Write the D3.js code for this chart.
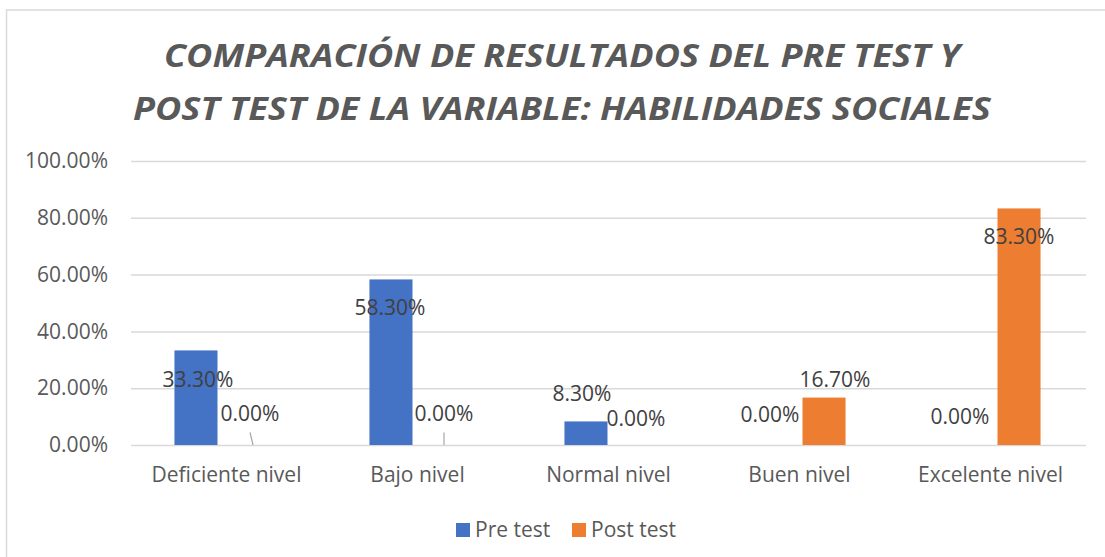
<!DOCTYPE html>
<html>
<head>
<meta charset="utf-8">
<script src="https://cdn.jsdelivr.net/npm/d3@7/dist/d3.min.js"></script>
<style>
  html, body { margin: 0; padding: 0; background: #fff; }
  svg { display: block; }
  text { font-family: "Open Sans", "Noto Sans", sans-serif; }
</style>
</head>
<body>
<svg id="chart" width="1105" height="557"></svg>
<script>
// ---- data ----
const categories = ["Deficiente nivel", "Bajo nivel", "Normal nivel", "Buen nivel", "Excelente nivel"];
const seriesNames = ["Pre test", "Post test"];
const preTest = [0.333, 0.583, 0.083, 0.0, 0.0];
const postTest = [0.0, 0.0, 0.0, 0.167, 0.833];
const yTicks = [0, 0.2, 0.4, 0.6, 0.8, 1.0];
const titleLines = ["COMPARACIÓN DE RESULTADOS DEL PRE TEST Y", "POST TEST DE LA VARIABLE: HABILIDADES SOCIALES"];

// ---- style / layout (label nudges are manual placement of data labels) ----
const colors = ["#4472C4", "#ED7D31"];
const preNudge = [[2, 29], [-1, 28], [-4, -28], [-11, -30], [-16, -28]];
const postNudge = [[11, -31], [10, -31], [7, -26], [11, -18], [0, 28]];
const leaders = [[0, 1], [1, 1]]; // [category index, series index] with leader lines

const svg = d3.select("#chart");

// chart border (top and left visible)
svg.append("line").attr("x1", 6).attr("x2", 1105).attr("y1", 10).attr("y2", 10)
  .attr("stroke", "#D9D9D9").attr("stroke-width", 1.5);
svg.append("line").attr("x1", 6.5).attr("x2", 6.5).attr("y1", 10).attr("y2", 557)
  .attr("stroke", "#D9D9D9").attr("stroke-width", 1.5);

// title
const titleYs = [67, 120];
const titleW = [796, 858];
titleLines.forEach((t, i) => {
  svg.append("text")
    .attr("x", 562).attr("y", titleYs[i])
    .attr("text-anchor", "middle")
    .attr("font-size", 32).attr("font-weight", "bold").attr("font-style", "italic")
    .attr("fill", "#595959")
    .attr("textLength", titleW[i]).attr("lengthAdjust", "spacingAndGlyphs")
    .text(t);
});

// scales
const y = d3.scaleLinear().domain([0, 1]).range([445, 161]);
const xLabel = d3.scaleBand().domain(categories).range([131, 1086]);
const p = 0.5585;
const x0 = d3.scaleBand().domain(categories).range([120, 1095]).paddingInner(p).paddingOuter(p / 2);
const x1 = d3.scaleBand().domain(seriesNames).range([0, x0.bandwidth()]);

// gridlines
const gAxisY = svg.append("g").attr("transform", "translate(131,0)")
  .call(d3.axisLeft(y).tickValues(yTicks).tickSize(-955).tickFormat(d3.format(".2%")).tickPadding(23));
gAxisY.select(".domain").remove();
gAxisY.selectAll(".tick line").attr("stroke", "#D9D9D9").attr("stroke-width", 1.5);
gAxisY.selectAll(".tick text").attr("font-size", 21).attr("fill", "#595959")
  .attr("font-family", "'Open Sans', sans-serif");

// bars
const series = [preTest, postTest];
series.forEach((vals, si) => {
  svg.append("g").selectAll("rect").data(vals).join("rect")
    .attr("x", (d, i) => x0(categories[i]) + x1(seriesNames[si]))
    .attr("y", d => y(d))
    .attr("width", x1.bandwidth())
    .attr("height", d => y(0) - y(d))
    .attr("fill", colors[si]);
});

// leader lines
leaders.forEach(([ci, si]) => {
  const cx = x0(categories[ci]) + x1(seriesNames[si]) + x1.bandwidth() / 2;
  const nud = (si === 0 ? preNudge : postNudge)[ci];
  const lx = cx + nud[0];
  svg.append("line")
    .attr("x1", lx).attr("y1", y(0) - 12.5)
    .attr("x2", ci === 0 ? lx + 3 : lx).attr("y2", y(0))
    .attr("stroke", "#A6A6A6").attr("stroke-width", 1.2);
});

// data labels
const fmt = d3.format(".2%");
series.forEach((vals, si) => {
  const nudge = si === 0 ? preNudge : postNudge;
  svg.append("g").selectAll("text").data(vals).join("text")
    .attr("x", (d, i) => x0(categories[i]) + x1(seriesNames[si]) + x1.bandwidth() / 2 + nudge[i][0])
    .attr("y", (d, i) => y(d) + nudge[i][1])
    .attr("dy", "0.35em")
    .attr("text-anchor", "middle")
    .attr("font-size", 21).attr("fill", "#404040")
    .text(d => fmt(d));
});

// category labels
const gAxisX = svg.append("g").attr("transform", "translate(0,445)")
  .call(d3.axisBottom(xLabel).tickSize(0).tickPadding(22));
gAxisX.select(".domain").remove();
gAxisX.selectAll(".tick text").attr("font-size", 21).attr("fill", "#595959")
  .attr("font-family", "'Open Sans', sans-serif");

// legend
const legend = svg.append("g");
const legendX = [456, 572];
seriesNames.forEach((name, i) => {
  legend.append("rect").attr("x", legendX[i]).attr("y", 523).attr("width", 14).attr("height", 14)
    .attr("fill", colors[i]);
  legend.append("text").attr("x", legendX[i] + 19).attr("y", 530).attr("dy", "0.35em")
    .attr("font-size", 21).attr("fill", "#595959").text(name);
});
</script>
</body>
</html>
